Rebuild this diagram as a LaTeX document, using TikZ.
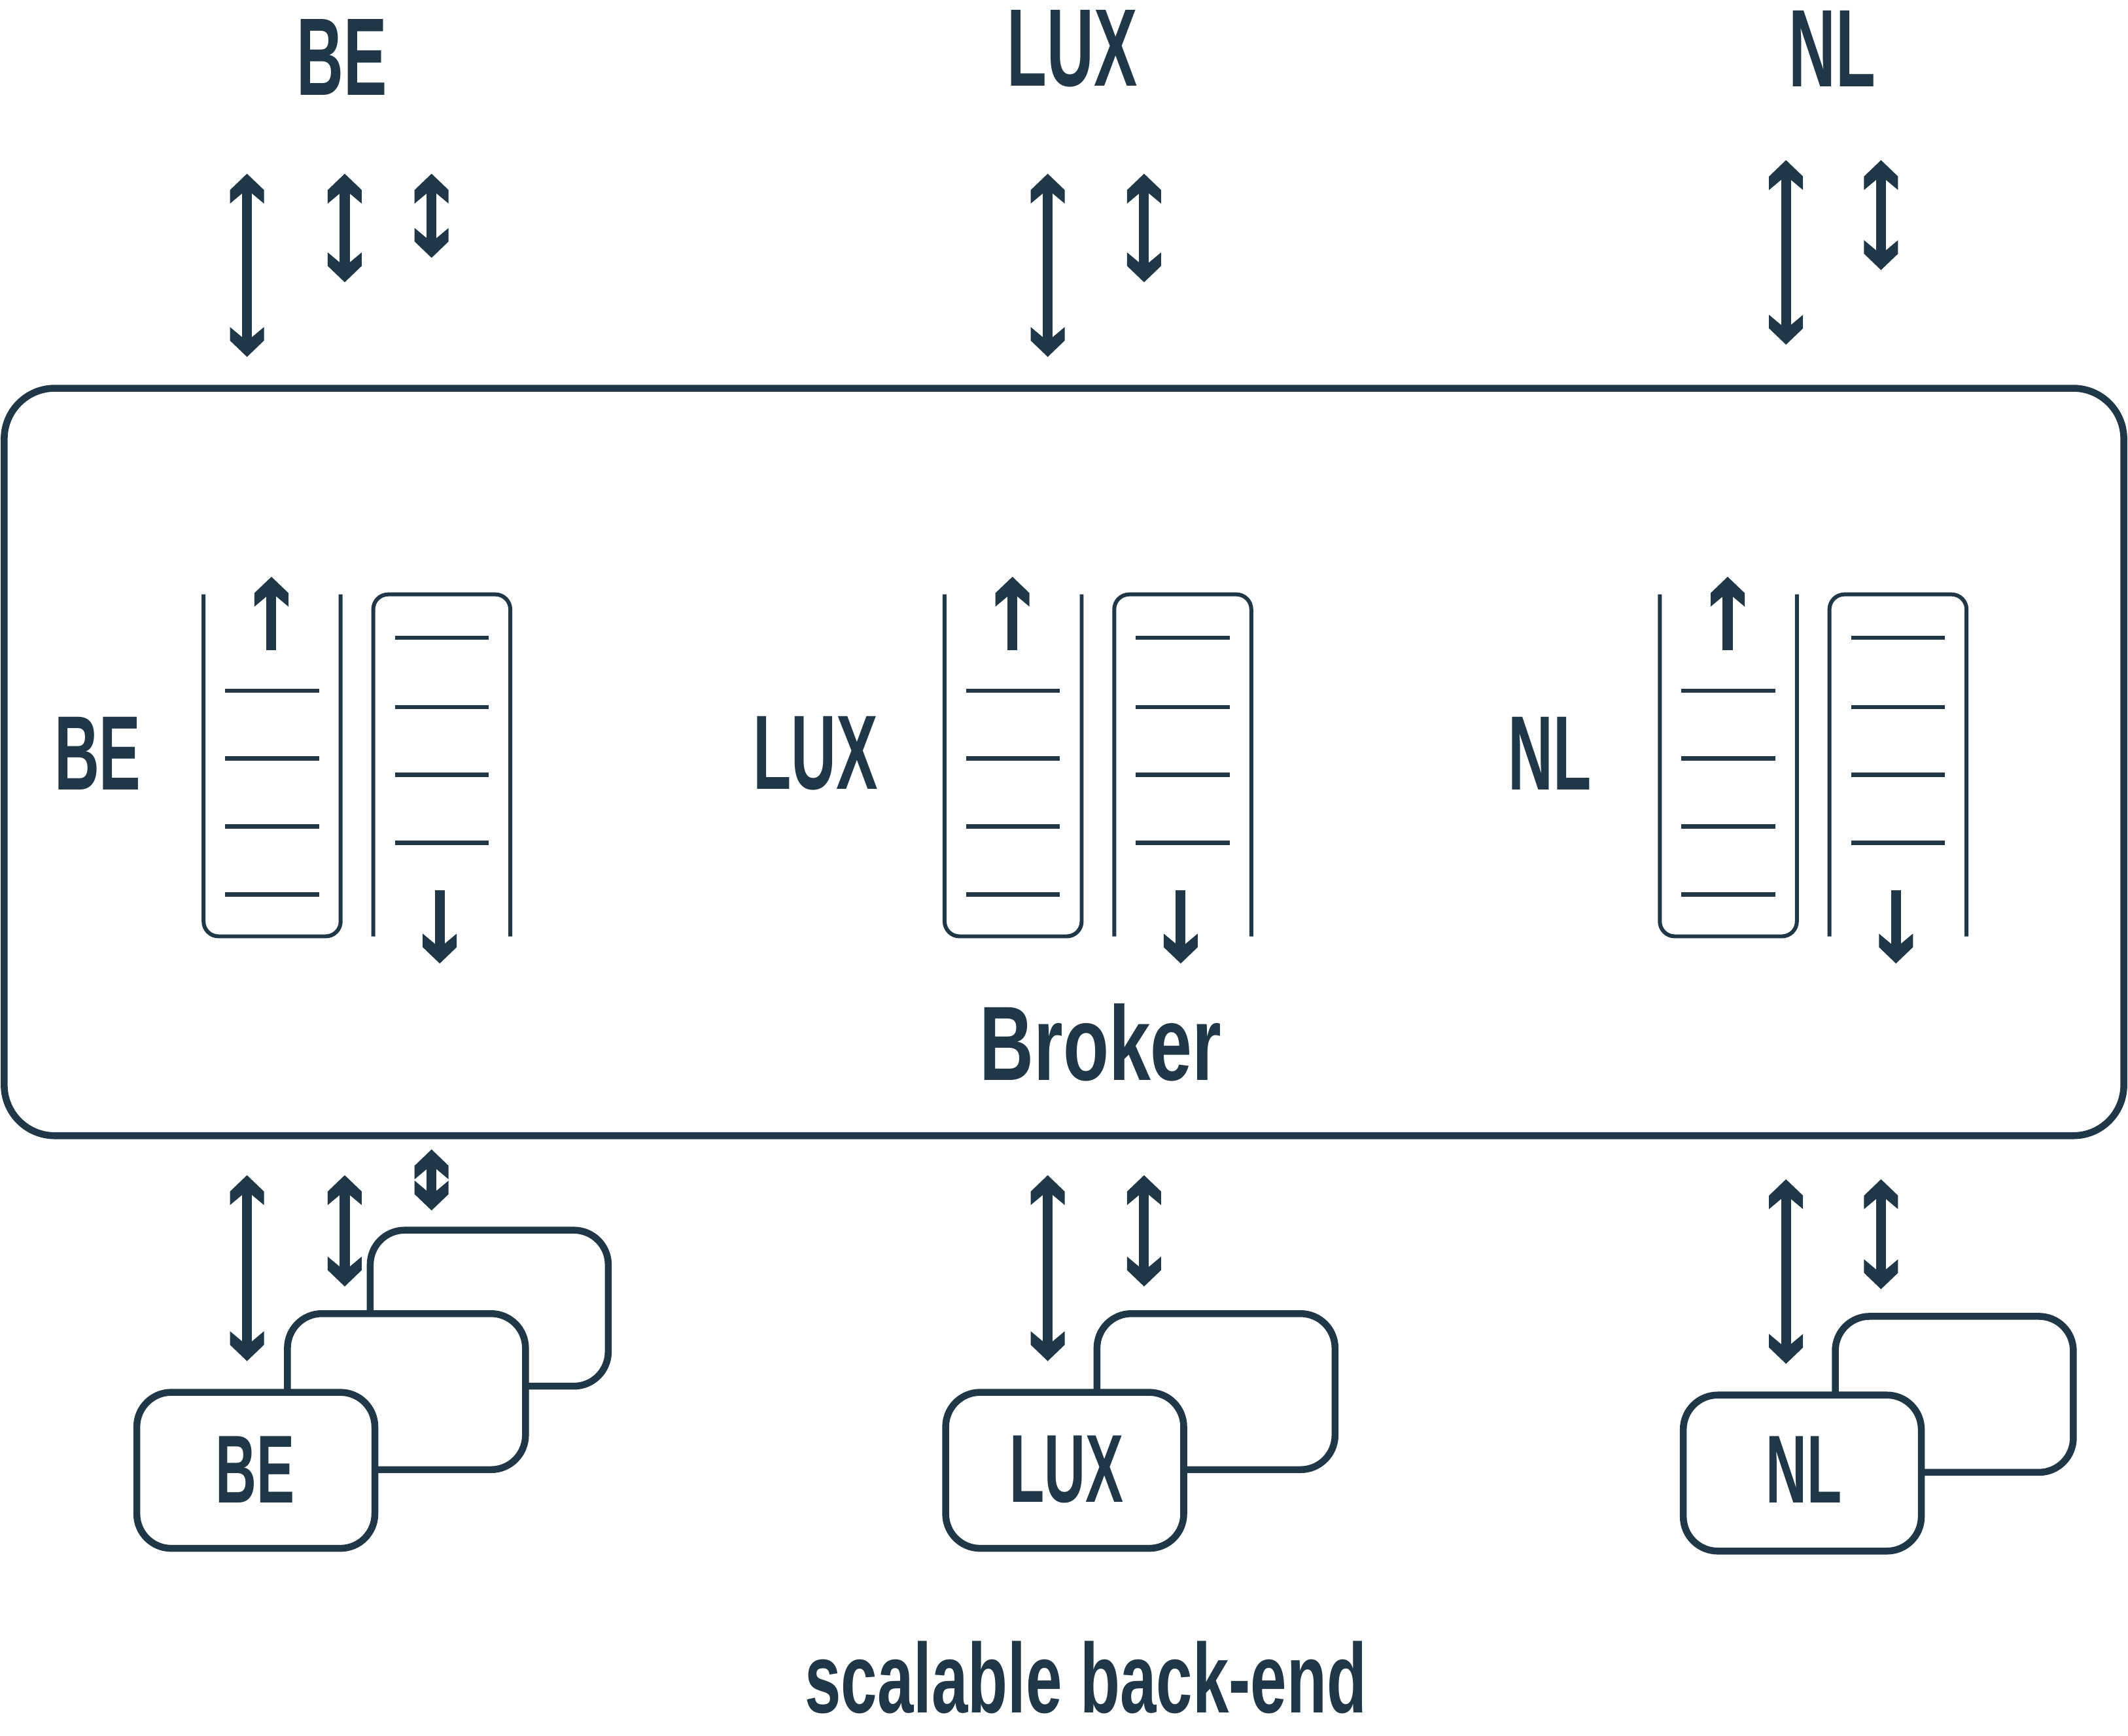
\documentclass[tikz,border=0pt]{standalone}
\usepackage{fontspec}
\setmainfont{Liberation Sans}
\newfontfamily\capf{Liberation Sans}[FakeStretch=0.59]
\newfontfamily\wordf{Liberation Sans}[FakeStretch=0.66]
\newfontfamily\brokf{Liberation Sans}[FakeStretch=0.71]
\definecolor{ink}{HTML}{1F3746}
\pgfdeclarearrow{
  name=Chev,
  setup code={
    \pgfarrowssettipend{0pt}
    \pgfarrowssetlineend{-8pt}
    \pgfarrowssetbackend{-13pt}
    \pgfarrowshullpoint{0pt}{0pt}
    \pgfarrowshullpoint{-13pt}{7.4pt}
    \pgfarrowshullpoint{-13pt}{-7.4pt}
  },
  drawing code={
    \pgfsetfillcolor{ink}
    \pgfpathmoveto{\pgfpoint{0pt}{0pt}}
    \pgfpathlineto{\pgfpoint{-7.1pt}{7.4pt}}
    \pgfpathlineto{\pgfpoint{-13pt}{7.4pt}}
    \pgfpathlineto{\pgfpoint{-8.6pt}{2.15pt}}
    \pgfpathlineto{\pgfpoint{-8.6pt}{-2.15pt}}
    \pgfpathlineto{\pgfpoint{-13pt}{-7.4pt}}
    \pgfpathlineto{\pgfpoint{-7.1pt}{-7.4pt}}
    \pgfpathclose
    \pgfusepathqfill
  }
}
\begin{document}
\begin{tikzpicture}[x=0.020746cm, y=-0.020746cm, color=ink,
  dbl/.style={Chev-Chev, line width=4.3pt},
  sgl/.style={-Chev, line width=4.3pt},
  bbox/.style={draw, line width=3pt, rounded corners=15pt, fill=white,
    minimum width=3.64cm, minimum height=2.386cm, inner sep=0pt},
  qline/.style={line width=1.9pt},
  qwall/.style={line width=1.7pt, rounded corners=6.5pt},
  toplab/.style={inner sep=0pt, font={\capf\bfseries\fontsize{48pt}{50pt}\selectfont}},
  midlab/.style={inner sep=0pt, font={\capf\bfseries\fontsize{46pt}{48pt}\selectfont}},
  boxlab/.style={inner sep=0pt, font={\capf\bfseries\fontsize{42pt}{44pt}\selectfont}},
  wordlab/.style={inner sep=0pt, font={\wordf\bfseries\fontsize{#1}{#1}\selectfont}},
  broklab/.style={inner sep=0pt, font={\brokf\bfseries\fontsize{46pt}{48pt}\selectfont}}
]
\useasboundingbox (0,0) rectangle (1568,1279);

% top labels
\node[toplab] (tBE) at (252,42) {BE};
\node[toplab] (tLUX) at (790,36) {LUX};
\node[toplab] (tNL) at (1350,36) {NL};

% broker
\node[draw, line width=3pt, rounded corners=22pt, minimum width=32.41cm,
  minimum height=11.43cm, inner sep=0pt] (broker) at (784,561.5) {};
\node[broklab] (brokerlab) at (811,768) {Broker};

\node[midlab] (mBE) at (72,555) {BE};
\node[midlab] (mLUX) at (601,555) {LUX};
\node[midlab] (mNL) at (1142,555) {NL};

% top arrows
\coordinate (t1a) at (182,128); \coordinate (t1b) at (182,263);
\coordinate (t2a) at (254,128); \coordinate (t2b) at (254,208);
\coordinate (t3a) at (318,128); \coordinate (t3b) at (318,190);
\coordinate (t4a) at (772,128); \coordinate (t4b) at (772,263);
\coordinate (t5a) at (843,128); \coordinate (t5b) at (843,208);
\coordinate (t6a) at (1316,118); \coordinate (t6b) at (1316,254);
\coordinate (t7a) at (1386,118); \coordinate (t7b) at (1386,199);
\foreach \i in {1,...,7} \draw[dbl] (t\i a) -- (t\i b);

% queues
\foreach \b/\n in {150/be, 696/lux, 1223/nl} {
  \draw[qwall] (\b,438) -- (\b,690) -- (\b+101,690) -- (\b+101,438);
  \draw[qwall] (\b+125,690) -- (\b+125,438) -- (\b+226,438) -- (\b+226,690);
  \foreach \y in {509,559,609,659} \draw[qline] (\b+16,\y) -- (\b+85,\y);
  \foreach \y in {470,521,571,621} \draw[qline] (\b+141,\y) -- (\b+210,\y);
  \coordinate (\n ua) at (\b+50,479);
  \coordinate (\n ub) at (\b+50,425);
  \draw[sgl] (\n ua) -- (\n ub);
  \coordinate (\n da) at (\b+174,656);
  \coordinate (\n db) at (\b+174,710);
  \draw[sgl] (\n da) -- (\n db);
}

% bottom arrows
\coordinate (b1a) at (182,866); \coordinate (b1b) at (182,1003);
\coordinate (b2a) at (254,866); \coordinate (b2b) at (254,948);
\coordinate (b3a) at (318,847); \coordinate (b3b) at (318,892);
\coordinate (b4a) at (772,866); \coordinate (b4b) at (772,1003);
\coordinate (b5a) at (843,866); \coordinate (b5b) at (843,948);
\coordinate (b6a) at (1316,869); \coordinate (b6b) at (1316,1005);
\coordinate (b7a) at (1386,869); \coordinate (b7b) at (1386,950);
\foreach \i in {1,...,7} \draw[dbl] (b\i a) -- (b\i b);

% bottom boxes
\node[bbox] (beC) at (360.5,964) {};
\node[bbox] (beB) at (299.5,1025.5) {};
\node[bbox] (beA) at (188.5,1083.5) {};
\node[boxlab] (beT) at (188,1083) {BE};

\node[bbox] (luxB) at (896,1025.5) {};
\node[bbox] (luxA) at (784.5,1083.5) {};
\node[boxlab] (luxT) at (786,1083) {LUX};

\node[bbox] (nlB) at (1440,1027.5) {};
\node[bbox] (nlA) at (1328,1085.5) {};
\node[boxlab] (nlT) at (1329,1083) {NL};

\node[wordlab=43pt] (scal) at (800,1236) {scalable back-end};
\end{tikzpicture}
\end{document}
